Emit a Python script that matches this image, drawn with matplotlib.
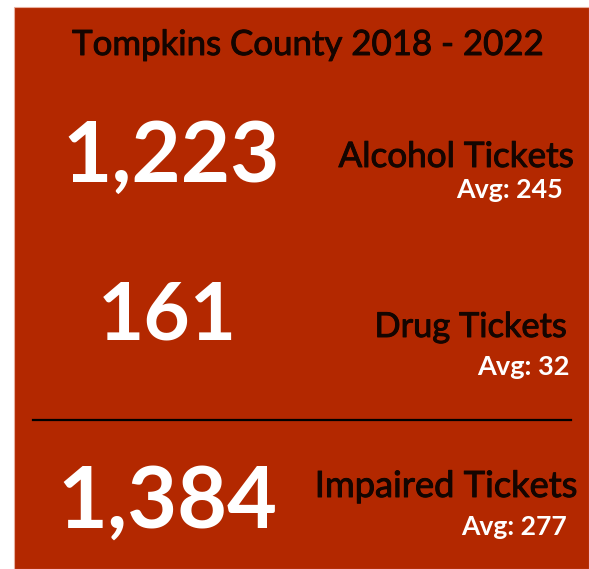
import matplotlib
matplotlib.use('Agg')
import matplotlib.pyplot as plt
import matplotlib.patheffects as pe
from matplotlib.patches import Rectangle

title = 'Tompkins County 2018 - 2022'
totals = [1223, 161, 1384]
labels = ['Alcohol Tickets', 'Drug Tickets', 'Impaired Tickets']
averages = [245, 32, 277]

W, H = 589, 569
bg = '#B32800'
dark = '#140500'

fig = plt.figure(figsize=(W / 100, H / 100), dpi=100)
fig.patch.set_facecolor('white')
plt.rcParams['font.family'] = ['Lato', 'DejaVu Sans']

def px(x, y):
    return x / W, 1 - y / H

fig.patches.append(Rectangle(px(14, 569), (W - 14) / W, (569 - 7) / H,
                             transform=fig.transFigure, facecolor=bg,
                             edgecolor='#e8b0a0', linewidth=0.8))

renderer = fig.canvas.get_renderer()
heavy = [pe.withStroke(linewidth=0.7, foreground=dark)]

def put(s, x, y, width, size, ha, **kw):
    t = fig.text(*px(x, y), s, ha=ha, va='baseline', fontsize=size, **kw)
    w = t.get_window_extent(renderer).width
    t.set_fontsize(size * width / w)
    return t

# title
put(title, 308, 55, 470, 22, 'center', color=dark, path_effects=heavy)

# rows: big number, label, average
num_pos = [(62, 182, 218), (98, 340, 139), (57, 528, 220)]
lab_pos = [(575, 167, 235), (567, 337, 192), (577, 497, 262)]
avg_pos = [(563, 198, 106), (570, 375, 92), (567, 535, 105)]

for i in range(3):
    x, y, w = num_pos[i]
    put(f'{totals[i]:,}', x, y, w, 50, 'left', color='white', fontweight='bold')
    x, y, w = lab_pos[i]
    put(labels[i], x, y, w, 18, 'right', color=dark, path_effects=heavy)
    x, y, w = avg_pos[i]
    put(f'Avg: {averages[i]}', x, y, w, 12, 'right', color='white', fontweight='bold')

fig.lines.append(plt.Line2D([33 / W, 571 / W], [1 - 420 / H, 1 - 420 / H],
                            transform=fig.transFigure, color='black', linewidth=1.6))

fig.savefig('out.png', dpi=100, facecolor='white')
